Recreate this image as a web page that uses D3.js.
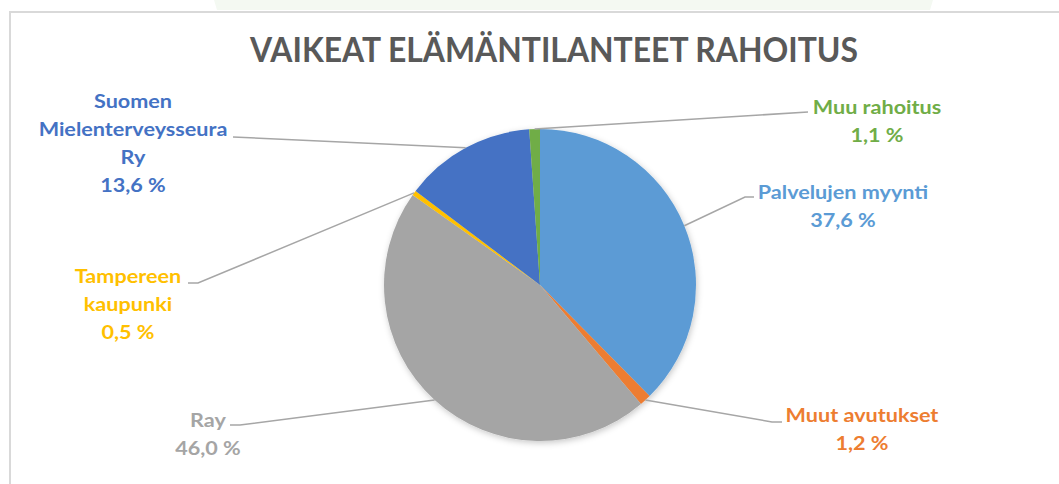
<!DOCTYPE html>
<html>
<head>
<meta charset="utf-8">
<script src="https://cdn.jsdelivr.net/npm/d3@7"></script>
<style>
  html, body { margin: 0; padding: 0; background: #ffffff; }
  svg { display: block; }
</style>
</head>
<body>
<svg id="chart" width="1059" height="484"></svg>
<script>
const titleText = "VAIKEAT ELÄMÄNTILANTEET RAHOITUS";
const categories = ["Palvelujen myynti", "Muut avutukset", "Ray", "Tampereen kaupunki", "Suomen Mielenterveysseura Ry", "Muu rahoitus"];
const values = [37.6, 1.2, 46.0, 0.5, 13.6, 1.1];
const valueLabels = ["37,6 %", "1,2 %", "46,0 %", "0,5 %", "13,6 %", "1,1 %"];
const labelLines = [["Palvelujen myynti"], ["Muut avutukset"], ["Ray"], ["Tampereen", "kaupunki"], ["Suomen", "Mielenterveysseura", "Ry"], ["Muu rahoitus"]];
const colors = ["#5B9BD5", "#ED7D31", "#A5A5A5", "#FFC000", "#4472C4", "#70AD47"];

// layout (positions only)
const cx = 540, cy = 285, R = 156;
const labelLayout = [
  { x: 843, y: 199, elbow: [[754, 197], [745, 197]] },
  { x: 862, y: 422, elbow: [[782, 422], [772, 422]] },
  { x: 208, y: 427, elbow: [[230, 425], [240, 425]] },
  { x: 128, y: 283, elbow: [[188, 283], [198, 283]] },
  { x: 133, y: 108, elbow: [[233, 137]] },
  { x: 877, y: 114, elbow: [[808, 112]] }
];
const lineH = 28;
const stretch = 1.2;

const svg = d3.select("#chart");
const defs = svg.append("defs");
const f = defs.append("filter").attr("id", "sh").attr("x", "-20%").attr("y", "-20%").attr("width", "140%").attr("height", "140%");
f.append("feDropShadow").attr("dx", 1).attr("dy", 2).attr("stdDeviation", 3).attr("flood-color", "#000").attr("flood-opacity", 0.22);

// faint green shape at top
svg.append("path").attr("d", "M214,0 L933,0 L930,10 L217,10 Z").attr("fill", "#f4f9f2");

// frame
svg.append("path").attr("d", "M10,484 L10,12 L1059,12").attr("fill", "none").attr("stroke", "#d9d9d9").attr("stroke-width", 2);

// title
svg.append("text")
  .attr("x", 554).attr("y", 62)
  .attr("text-anchor", "middle")
  .attr("font-family", "Lato, 'Open Sans', sans-serif")
  .attr("font-weight", "bold")
  .attr("font-size", 35)
  .attr("fill", "#595959")
  .attr("textLength", 608)
  .attr("lengthAdjust", "spacingAndGlyphs")
  .text(titleText);

const data = categories.map((c, i) => ({ name: c, value: values[i], i }));
const pie = d3.pie().sort(null).value(d => d.value).startAngle(0).endAngle(2 * Math.PI);
const arcs = pie(data);
const arc = d3.arc().innerRadius(0).outerRadius(R);

const g = svg.append("g").attr("transform", `translate(${cx},${cy})`);
g.append("g").attr("filter", "url(#sh)")
  .selectAll("path").data(arcs).join("path")
  .attr("d", arc)
  .attr("fill", d => colors[d.data.i]);

// leader lines
arcs.forEach(a => {
  const mid = (a.startAngle + a.endAngle) / 2;
  const px = cx + R * Math.sin(mid), py = cy - R * Math.cos(mid);
  const L = labelLayout[a.data.i];
  const pts = L.elbow.concat([[px, py]]);
  svg.append("path")
    .attr("d", d3.line()(pts))
    .attr("fill", "none")
    .attr("stroke", "#a6a6a6")
    .attr("stroke-width", 1.5);
});

// labels
arcs.forEach(a => {
  const i = a.data.i;
  const L = labelLayout[i];
  const lines = labelLines[i].concat([valueLabels[i]]);
  const t = svg.append("text")
    .attr("transform", `translate(${L.x},0) scale(${stretch},1)`)
    .attr("text-anchor", "middle")
    .attr("font-family", "Lato, 'Open Sans', sans-serif")
    .attr("font-weight", "bold")
    .attr("font-size", 18)
    .attr("fill", colors[i]);
  lines.forEach((s, k) => {
    t.append("tspan").attr("x", 0).attr("y", L.y + k * lineH).text(s);
  });
});
</script>
</body>
</html>
